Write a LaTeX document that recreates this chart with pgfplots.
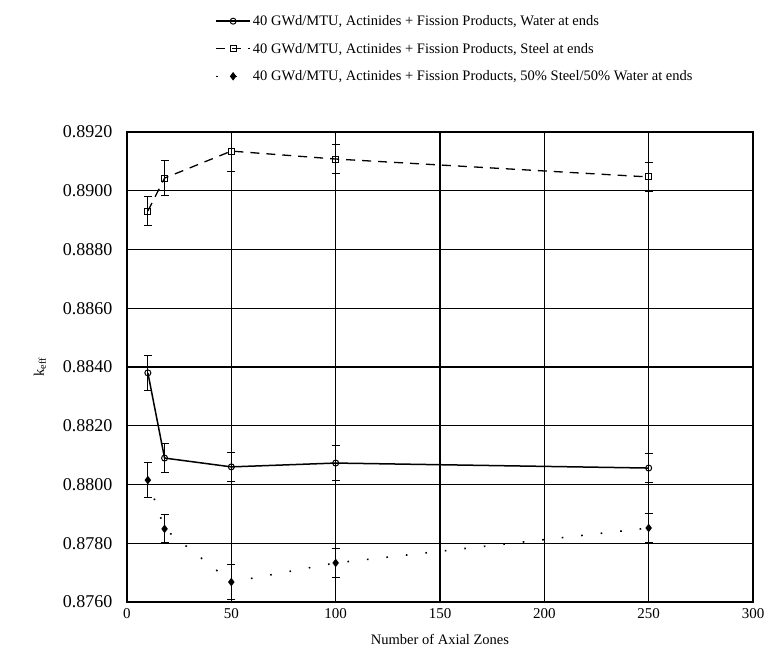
\documentclass[border=0pt]{standalone}
\usepackage{fontspec}
\setmainfont{Liberation Serif}
\usepackage{pgfplots}
\pgfplotsset{compat=1.18}

\begin{document}
\begin{tikzpicture}[x=1pt,y=1pt]
  \useasboundingbox (-127,-54) rectangle (657,602);

  \begin{axis}[
    at={(0,0)}, anchor=south west,
    scale only axis,
    width=626pt, height=470pt,
    xmin=0, xmax=300,
    ymin=0.876, ymax=0.892,
    xtick={0,50,100,150,200,250,300},
    ytick={0.876,0.878,0.880,0.882,0.884,0.886,0.888,0.890,0.892},
    /pgf/number format/assume math mode=true,
    font=\fontsize{14.5}{17}\selectfont,
    xticklabel style={font=\fontsize{15}{17}\selectfont, yshift=-3pt},
    yticklabel style={font=\fontsize{18}{20}\selectfont, xshift=-11pt,
      /pgf/number format/fixed, /pgf/number format/fixed zerofill,
      /pgf/number format/precision=4},
    xlabel={Number of Axial Zones},
    xlabel style={yshift=-9pt},
    ylabel={k\textsubscript{eff}},
    ylabel style={yshift=10pt},
    grid=major,
    grid style={black, line width=1.1pt},
    axis line style={line width=1.6pt},
    major tick length=0pt,
    legend cell align=left,
    legend style={at={(0.136,1.257)}, anchor=north west, draw=none, fill=none,
      row sep=12pt, font=\fontsize{14.5}{17}\selectfont},
    legend image code/.code={%
      \draw[mark repeat=2,mark phase=2,#1] plot coordinates {(0pt,0pt)(17pt,0pt)(34pt,0pt)};},
    error bars/error bar style={line width=1pt, solid},
    error bars/error mark options={rotate=90, mark size=4pt, line width=1pt, solid},
  ]
    % Water at ends
    \addplot[black, line width=1.5pt, mark=o, mark size=3pt,
      mark options={solid, fill=white, line width=1pt},
      error bars/.cd, y dir=both, y explicit]
    coordinates {
      (10,0.88380) +- (0,0.00060)
      (18,0.88090) +- (0,0.00050)
      (50,0.88060) +- (0,0.00050)
      (100,0.88073) +- (0,0.00060)
      (250,0.88056) +- (0,0.00050)
    };
    % Steel at ends
    \addplot[black, line width=1.3pt, dash pattern=on 9pt off 7pt, mark=square, mark size=3pt,
      mark options={solid, fill=white, line width=1pt},
      error bars/.cd, y dir=both, y explicit]
    coordinates {
      (10,0.88931) +- (0,0.00050)
      (18,0.89043) +- (0,0.00060)
      (50,0.89135) +- (0,0.00070)
      (100,0.89108) +- (0,0.00050)
      (250,0.89047) +- (0,0.00050)
    };
    % 50% steel / 50% water at ends
    \addplot[black, line width=1.6pt, dash pattern=on 1.6pt off 18pt, mark=diamond*, mark size=3pt,
      mark options={solid},
      error bars/.cd, y dir=both, y explicit]
    coordinates {
      (10,0.88015) +- (0,0.00060)
      (18,0.87849) +- (0,0.00048)
      (50,0.87668) +- (0,0.00060)
      (100,0.87733) +- (0,0.00050)
      (250,0.87852) +- (0,0.00050)
    };
    \legend{40 GWd/MTU{,} Actinides + Fission Products{,} Water at ends,
      40 GWd/MTU{,} Actinides + Fission Products{,} Steel at ends,
      40 GWd/MTU{,} Actinides + Fission Products{,} 50\% Steel/50\% Water at ends}
  \end{axis}
\end{tikzpicture}
\end{document}
